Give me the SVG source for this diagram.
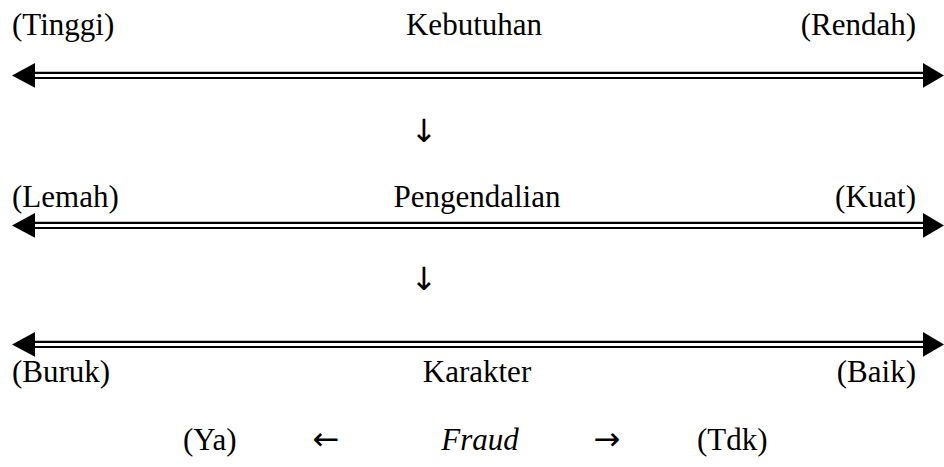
<svg xmlns="http://www.w3.org/2000/svg" width="944" height="467" viewBox="0 0 944 467">
<style>
text{font-family:"Liberation Serif","Times New Roman",serif;font-size:31px;fill:#000}
.ar{font-family:"DejaVu Sans",sans-serif;font-size:32px}
.l{stroke:#000;stroke-width:2.2;fill:none}
.h{fill:#000}
.it{font-style:italic}
</style>
<rect width="944" height="467" fill="#fff"/>
<g id="connectors">
<g id="arrow-kebutuhan">
<line class="l" x1="30" y1="72.8" x2="926" y2="72.8"/>
<line class="l" x1="30" y1="78" x2="926" y2="78"/>
<polygon class="h" points="12,75.4 35,63 35,87.8"/>
<polygon class="h" points="944,75.4 923,63 923,87.8"/>
</g>
<g id="arrow-pengendalian">
<line class="l" x1="30" y1="222.8" x2="926" y2="222.8"/>
<line class="l" x1="30" y1="228" x2="926" y2="228"/>
<polygon class="h" points="12,225.4 35,213 35,237.8"/>
<polygon class="h" points="944,225.4 923,213 923,237.8"/>
</g>
<g id="arrow-karakter">
<line class="l" x1="30" y1="341.8" x2="926" y2="341.8"/>
<line class="l" x1="30" y1="347" x2="926" y2="347"/>
<polygon class="h" points="12,344.4 35,332 35,356.8"/>
<polygon class="h" points="944,344.4 923,332 923,356.8"/>
</g>
</g>
<g id="node-kebutuhan">
<text x="12" y="35">(Tinggi)</text>
<text x="474" y="35" text-anchor="middle">Kebutuhan</text>
<text x="916" y="35" text-anchor="end">(Rendah)</text>
</g>
<g id="down1"><text class="ar" x="424" y="142" text-anchor="middle">↓</text></g>
<g id="node-pengendalian">
<text x="12" y="207">(Lemah)</text>
<text x="477" y="207" text-anchor="middle">Pengendalian</text>
<text x="916" y="207" text-anchor="end">(Kuat)</text>
</g>
<g id="down2"><text class="ar" x="424" y="290" text-anchor="middle">↓</text></g>
<g id="node-karakter">
<text x="12" y="382">(Buruk)</text>
<text x="477" y="382" text-anchor="middle">Karakter</text>
<text x="916" y="382" text-anchor="end">(Baik)</text>
</g>
<g id="node-fraud">
<text x="183" y="450">(Ya)</text>
<text class="ar" x="326" y="450" text-anchor="middle">←</text>
<text x="480" y="450" text-anchor="middle" class="it">Fraud</text>
<text class="ar" x="607" y="450" text-anchor="middle">→</text>
<text x="697" y="450">(Tdk)</text>
</g>
</svg>
